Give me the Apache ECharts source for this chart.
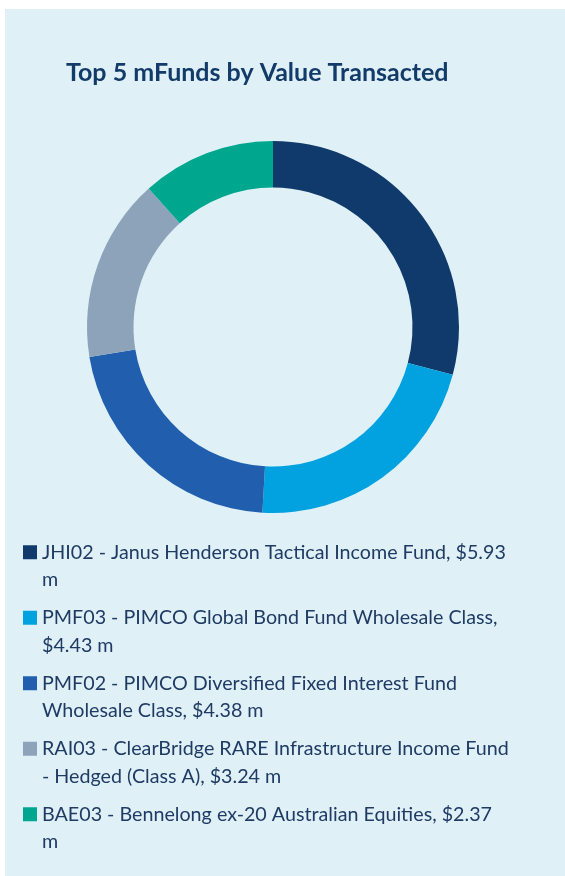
<!DOCTYPE html>
<html>
<head>
<meta charset="utf-8">
<title>Top 5 mFunds by Value Transacted</title>
<script src="https://cdn.jsdelivr.net/npm/echarts@6/dist/echarts.min.js"></script>
<style>
    html, body { margin: 0; padding: 0; background: #ffffff; }
    #main { width: 565px; height: 876px; }
</style>
</head>
<body>
<div id="main"></div>
<script>
// fund names (code - name) and value transacted, $ millions
var fundNames = [
    'JHI02 - Janus Henderson Tactical Income Fund',
    'PMF03 - PIMCO Global Bond Fund Wholesale Class',
    'PMF02 - PIMCO Diversified Fixed Interest Fund Wholesale Class',
    'RAI03 - ClearBridge RARE Infrastructure Income Fund - Hedged (Class A)',
    'BAE03 - Bennelong ex-20 Australian Equities'
];
var fundValues = [5.93, 4.43, 4.38, 3.24, 2.37];
var fundColors = ['#0f3a6b', '#02a2e0', '#215fae', '#8da3ba', '#00a78f'];

var legendFont = 19.7;
var legendWrap = 471;

var pieData = [];
for (var i = 0; i < fundNames.length; i++) {
    pieData.push({
        name: fundNames[i],
        value: fundValues[i],
        itemStyle: { color: fundColors[i] }
    });
}

// word wrap by measured width, so a wrapped line never starts with a space
var measureCtx = document.createElement('canvas').getContext('2d');
function wrapLabel(text) {
    measureCtx.font = legendFont + 'px Lato';
    var words = text.split(' '), lines = [], line = '';
    for (var k = 0; k < words.length; k++) {
        var test = line ? line + ' ' + words[k] : words[k];
        if (line && measureCtx.measureText(test).width > legendWrap) {
            lines.push(line);
            line = words[k];
        } else {
            line = test;
        }
    }
    lines.push(line);
    return lines.join('\n');
}

var myChart = echarts.init(document.getElementById('main'));
var option = {
    backgroundColor: '#ffffff',
    animation: false,
    graphic: [{
        type: 'rect',
        silent: true,
        z: -10,
        shape: { x: 5, y: 9, width: 560, height: 867 },
        style: { fill: '#dff0f7' }
    }],
    title: {
        text: 'Top 5 mFunds by Value Transacted',
        left: 66,
        top: 60,
        padding: 0,
        textStyle: {
            fontFamily: 'Lato',
            fontWeight: 'bold',
            fontSize: 25,
            color: '#123b69'
        }
    },
    legend: {
        orient: 'vertical',
        left: 23,
        top: 511,
        padding: 0,
        itemWidth: 14,
        itemHeight: 14,
        itemGap: -17,
        icon: 'rect',
        selectedMode: false,
        data: fundNames,
        formatter: function (name) {
            var idx = fundNames.indexOf(name);
            // empty first line keeps the marker level with the first text line
            return '\n' + wrapLabel(name + ', $' + fundValues[idx].toFixed(2) + ' m');
        },
        textStyle: {
            fontFamily: 'Lato',
            fontSize: legendFont,
            color: '#1f3b63',
            lineHeight: 27.5
        }
    },
    series: [{
        type: 'pie',
        center: [273, 327],
        radius: [139.5, 186],
        startAngle: 90,
        clockwise: true,
        label: { show: false },
        labelLine: { show: false },
        emphasis: { disabled: true },
        itemStyle: { borderWidth: 0 },
        data: pieData
    }]
};
myChart.setOption(option);
</script>
</body>
</html>
